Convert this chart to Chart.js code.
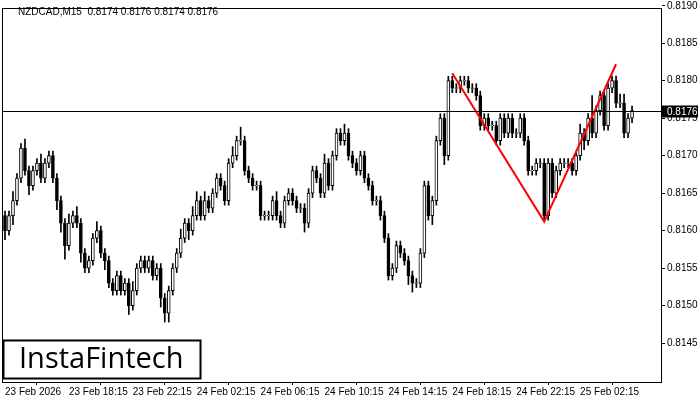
<!DOCTYPE html>
<html><head><meta charset="utf-8">
<script src="https://cdn.jsdelivr.net/npm/chart.js@4.4.1/dist/chart.umd.min.js"></script>
<style>html,body{margin:0;padding:0;background:#fff}#c{display:block}</style>
</head><body>
<div style="width:700px;height:400px"><canvas id="c"></canvas></div>
<script>
const title = "NZDCAD,M15  0.8174 0.8176 0.8174 0.8176";
const closes = [0.8160,0.8162,0.8164,0.8167,0.8171,0.8168,0.8166,0.8168,0.8169,0.8167,0.8169,0.8170,0.8167,0.8164,0.8161,0.8158,0.8161,0.8162,0.8161,0.8157,0.8155,0.8156,0.8159,0.8160,0.8157,0.8156,0.8153,0.8152,0.8154,0.8152,0.8153,0.8150,0.8152,0.8155,0.8156,0.8155,0.8156,0.8154,0.8155,0.8151,0.8149,0.8152,0.8155,0.8157,0.8159,0.8161,0.8160,0.8162,0.8164,0.8162,0.8164,0.8163,0.8165,0.8167,0.8166,
0.8164,0.8169,0.8170,0.8172,0.8172,0.8168,0.8167,0.8166,0.8166,0.8162,0.8162,0.8162,0.8164,0.8162,0.8161,0.8164,0.8165,0.8164,0.8163,0.8163,0.8161,0.8165,0.8168,0.8167,0.8165,0.8169,0.8166,0.8170,0.8173,0.8172,0.8173,0.8170,0.8169,0.8168,0.8170,0.8167,0.8166,0.8164,0.8164,0.8162,0.8159,0.8154,0.8155,0.8158,0.8157,0.8156,0.8154,0.8153,0.8153,0.8157,0.8166,0.8162,
0.8164,0.8172,0.8175,0.8170,0.8180,0.8179,0.8179,0.8180,0.8180,0.8179,0.8179,0.8178,0.8174,0.8175,0.8174,0.8174,0.8172,0.8175,0.8173,0.8175,0.8173,0.8173,0.8175,0.8172,0.8168,0.8168,0.8169,0.8169,0.8162,0.8169,0.8165,0.8168,0.8169,0.8169,0.8169,0.8168,0.8170,0.8173,0.8172,0.8175,0.8173,0.8176,0.8178,0.8174,0.8179,0.8180,0.8177,0.8177,0.8173,0.8175,0.8176];
const firstOpen = 0.8162;
const wickUp = [1,1,2,1,1,2,1,1,1,2,1,1,1,1,1,1,2,1,2,1,1,1,1,2,1,1,1,1,1,1,1,1,2,1,1,1,1,1,1,1,1,1,1,1,2,1,1,2,2,1,2,1,1,1,1,
1,1,2,1,3,1,1,1,1,1,1,1,1,2,1,1,1,1,1,1,1,1,1,1,1,2,1,1,1,1,2,1,1,1,1,1,1,1,1,1,1,1,1,1,1,1,1,1,1,1,1,1,
1,1,1,1,1,1,1,1,1,1,1,1,1,1,1,1,1,1,1,1,1,1,1,1,1,1,1,1,1,1,1,1,1,1,1,1,1,2,1,1,5,1,1,1,1,1,1,2,2,1,1,1,1];
const wickDn = [2,1,2,1,1,1,2,1,1,1,1,1,1,2,2,3,1,1,1,2,1,1,1,1,1,2,1,1,1,1,1,2,1,1,1,1,1,1,1,2,2,2,1,1,1,1,2,1,1,1,1,1,1,1,1,
1,1,1,1,1,1,1,1,1,1,1,1,1,1,1,1,1,1,1,1,2,1,1,1,1,1,1,1,1,1,1,1,1,1,1,1,1,1,1,1,1,1,1,1,1,1,2,2,1,1,1,1,
2,1,1,2,1,1,1,1,1,1,1,1,1,1,1,1,1,1,1,1,1,1,1,1,1,1,1,1,1,1,1,1,1,1,1,1,1,1,2,1,1,1,1,1,1,1,1,1,1,1,1,1,1];
const patternX = [112,135,153];
const patternY = [0.81810,0.81612,0.81822];
const currentPrice = 0.8176;
const tickIdx = [0,16,32,48,64,80,96,112,128,144];
const tickLabels = ["23 Feb 2026","23 Feb 18:15","23 Feb 22:15","24 Feb 02:15","24 Feb 06:15","24 Feb 10:15","24 Feb 14:15","24 Feb 18:15","24 Feb 22:15","25 Feb 02:15"];

const opens = closes.map((c,i)=> i===0 ? firstOpen : closes[i-1]);
const P = 0.0001;
const wicks=[], bodies=[], bodyBg=[];
closes.forEach((c,i)=>{
  const o=opens[i];
  const hi=Math.max(o,c)+wickUp[i]*P*0.6, lo=Math.min(o,c)-wickDn[i]*P*0.6;
  wicks.push({x:i,y:[lo,hi]});
  let a=Math.min(o,c), b=Math.max(o,c);
  if (b-a<0.000005){a-=0.000004;b+=0.000004;}
  bodies.push({x:i,y:[a,b]});
  bodyBg.push(c>=o ? '#ffffff' : '#000000');
});
const pattern = patternX.map((x,i)=>({x, y:patternY[i]}));
const FONT = '"Liberation Sans", Arial, sans-serif';

const deco = {
  id:'deco',
  afterDraw(ch){
    const {ctx, chartArea:a, scales:{y}} = ch;
    ctx.save();
    ctx.strokeStyle='#000'; ctx.lineWidth=1;
    ctx.strokeRect(a.left+0.5,a.top+0.5,a.right-a.left-1,a.bottom-a.top);
    const py=Math.round(y.getPixelForValue(currentPrice))+0.5;
    ctx.beginPath(); ctx.moveTo(a.left,py); ctx.lineTo(a.right,py); ctx.stroke();
    ctx.fillStyle='#000'; ctx.fillRect(a.right,py-6,36,12);
    ctx.fillStyle='#fff'; ctx.font='10px '+FONT;
    ctx.textBaseline='middle'; ctx.textAlign='left';
    ctx.fillText(currentPrice.toFixed(4), a.right+5, py+0.5);
    ctx.fillStyle='#000'; ctx.textBaseline='alphabetic';
    ctx.fillText(title, 18, 15);
    ctx.fillStyle='#fff'; ctx.fillRect(3.5,340.5,197,38);
    ctx.strokeStyle='#000'; ctx.lineWidth=2; ctx.strokeRect(3.5,340.5,197,38);
    ctx.fillStyle='#000'; ctx.font='29px "Open Sans", sans-serif'; ctx.textBaseline='middle';
    ctx.fillText('InstaFintech', 19, 360);
    ctx.restore();
  }
};

new Chart(document.getElementById('c'), {
  data:{datasets:[
    {type:'bar', data:wicks, backgroundColor:'#000', barThickness:1, grouped:false, order:3},
    {type:'bar', data:bodies, backgroundColor:bodyBg, borderColor:'#000', borderWidth:1, borderSkipped:false, barThickness:3, grouped:false, order:2},
    {type:'line', data:pattern, borderColor:'#ff0000', borderWidth:2, pointRadius:0, tension:0, order:1}
  ]},
  options:{
    responsive:true, maintainAspectRatio:false, animation:false,
    layout:{padding:{left:2,top:0,right:0,bottom:0}},
    plugins:{legend:{display:false}, tooltip:{enabled:false}},
    scales:{
      x:{type:'linear', min:-0.75, max:164.5, offset:false,
        afterBuildTicks(s){ s.ticks = tickIdx.map(v=>({value:v})); },
        afterFit(s){ s.height=18; },
        grid:{display:true, drawOnChartArea:false, tickLength:3, color:'#000'},
        border:{display:false},
        ticks:{autoSkip:false, maxRotation:0, align:'start', padding:1, color:'#000',
          font:{family:FONT, size:10},
          callback(v){ const k=tickIdx.indexOf(v); return k>=0?tickLabels[k]:''; }}
      },
      y:{position:'right', min:0.81398, max:0.81897,
        afterBuildTicks(s){ const t=[]; for(let v=0.8145; v<=0.81901; v+=0.0005) t.push({value:+v.toFixed(4)}); s.ticks=t; },
        afterFit(s){ s.width=38; },
        grid:{display:true, drawOnChartArea:false, tickLength:3, color:'#000'},
        border:{display:false},
        ticks:{padding:2, color:'#000', font:{family:FONT, size:10},
          callback(v){ return v.toFixed(4); }}
      }
    }
  },
  plugins:[deco]
});
</script>
</body></html>
